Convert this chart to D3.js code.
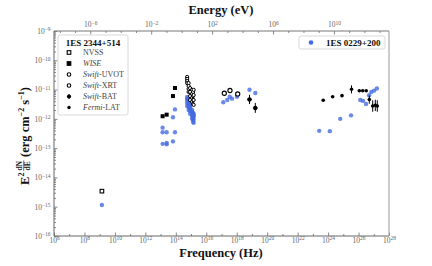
<!DOCTYPE html>
<html>
<head>
<meta charset="utf-8">
<script src="https://cdn.jsdelivr.net/npm/d3@7"></script>
<style>
  body { margin: 0; background: #fff; }
  text { font-family: "Liberation Serif", "Times New Roman", serif; }
</style>
</head>
<body>
<div id="chart"></div>
<script>
const width = 432
const height = 266
const margin = {top: 31, right: 43, bottom: 30, left: 54}
const hPlanck = 4.135667e-15   // eV s

// ---- 1ES 2344+514 (black) : [frequency Hz, flux erg cm^-2 s^-1, (err lo, err hi)]
const nvss = [[1.4e9, 3.4e-15]]
const wise = [[1.36e13, 1.23e-12], [2.5e13, 1.39e-12], [6.5e13, 6.0e-12], [8.8e13, 1.13e-11]]
const uvotNu = [5.55e14, 6.93e14, 8.65e14, 1.16e15, 1.35e15, 1.48e15]
const uvot2344 = [
  [2.7e-11, 2.3e-11, 1.95e-11, 1.66e-11],
  [1.66e-11, 1.32e-11, 1.05e-11, 8.3e-12],
  [1.12e-11, 8.3e-12, 6.0e-12, 4.4e-12],
  [9.8e-12, 7.1e-12, 5.2e-12, 3.8e-12],
  [8.3e-12, 6.0e-12, 4.4e-12, 3.2e-12],
  [9.8e-12, 6.5e-12, 4.4e-12, 3.0e-12]
]
const xrt = [[1.53e17, 7.5e-12], [3.6e17, 9.3e-12], [1.16e18, 7.1e-12]]
const bat = [[6.9e18, 4.6e-12, 3.2e-12, 6.6e-12], [1.66e19, 2.35e-12, 1.6e-12, 3.5e-12]]
const batNuErr = [[4.8e18, 1.0e19], [1.15e19, 2.4e19]]
const lat = [
  [4.8e23, 4.3e-12], [2.0e24, 5.7e-12], [8.2e24, 6.2e-12],
  [3.45e25, 1.02e-11, 7.4e-12, 1.4e-11],
  [1.12e26, 9.1e-12], [1.88e26, 9.1e-12], [3.2e26, 9.1e-12],
  [5.1e26, 4.6e-12, 3.3e-12, 6.3e-12],
  [8.5e26, 2.75e-12, 1.75e-12, 4.3e-12],
  [1.26e27, 2.9e-12, 1.85e-12, 4.5e-12],
  [1.7e27, 2.75e-12, 1.75e-12, 4.3e-12]
]

// ---- 1ES 0229+200 (blue)
const radio0229 = [[1.4e9, 1.15e-15]]
const ir0229 = [
  [1.36e13, 5.0e-13], [1.36e13, 3.5e-13], [1.36e13, 1.4e-13],
  [2.5e13, 3.5e-13], [2.5e13, 1.5e-13], [2.5e13, 1.35e-13],
  [6.5e13, 1.13e-12], [6.5e13, 1.7e-13],
  [8.8e13, 2.1e-12], [8.8e13, 3.5e-13]
]
const uvot0229 = [
  [5.6e-12, 4.9e-12, 4.4e-12, 3.5e-12, 2.75e-12],
  [4.1e-12, 3.6e-12, 3.2e-12, 2.55e-12, 2.0e-12],
  [2.95e-12, 2.6e-12, 2.34e-12, 1.85e-12, 1.48e-12],
  [2.0e-12, 1.8e-12, 1.58e-12, 1.26e-12, 1.0e-12],
  [1.58e-12, 1.4e-12, 1.26e-12, 1.0e-12, 7.9e-13],
  [1.48e-12, 1.3e-12, 1.18e-12, 9.3e-13, 7.3e-13]
]
const xray0229 = [[1.31e17, 3.7e-12], [2.4e17, 4.4e-12], [3.46e17, 5.7e-12], [4.9e17, 4.9e-12], [1.04e18, 5.7e-12],
  [6.9e18, 9.9e-12], [1.66e19, 7.6e-12]]
const gamma0229 = [
  [2.6e23, 3.9e-13], [1.3e24, 3.8e-13], [6.3e24, 1.0e-12], [3.2e25, 1.32e-12],
  [1.3e26, 4.4e-12], [1.97e26, 4.1e-12], [3.1e26, 3.2e-12],
  [4.9e26, 6.4e-12], [6.9e26, 8.3e-12], [1.04e27, 9.2e-12], [1.6e27, 1.09e-11]
]

const xExp = d3.range(6, 29, 2)
const yExp = d3.range(-16, -8)
const eExp = [-6, -2, 2, 6, 10]
const legendEntries = [
  {it: "", rm: "NVSS", mark: "osq"},
  {it: "WISE", rm: "", mark: "sq"},
  {it: "Swift", rm: "-UVOT", mark: "oc"},
  {it: "Swift", rm: "-XRT", mark: "oc"},
  {it: "Swift", rm: "-BAT", mark: "bat"},
  {it: "Fermi", rm: "-LAT", mark: "dot"}
]

const svg = d3.select("#chart").append("svg")
  .attr("width", width)
  .attr("height", height)

const x = d3.scaleLog().domain([1e6, 1e28]).range([margin.left, width - margin.right])
const y = d3.scaleLog().domain([1e-16, 1e-9]).range([height - margin.bottom, margin.top])
const xE = d3.scaleLog().domain([1e6 * hPlanck, 1e28 * hPlanck]).range([margin.left, width - margin.right])

const sup = e => String(e).replace("-", "\u2212")

function styleAxis(g, labels) {
  g.select(".domain").remove()
  g.selectAll(".tick line").attr("stroke", "#555").attr("stroke-width", 0.7)
  g.selectAll(".tick text")
    .attr("font-family", '"Liberation Serif", serif')
    .attr("font-size", 7.5)
    .attr("fill", "#666")
  if (labels) {
    g.selectAll(".tick text").append("tspan")
      .attr("dy", "-0.45em")
      .attr("font-size", 5.5)
      .text(d => sup(Math.round(Math.log10(d))))
  }
}

// bottom axis
const gx = svg.append("g").attr("transform", `translate(0,${height - margin.bottom})`)
  .call(d3.axisBottom(x).tickValues(xExp.map(e => Math.pow(10, e))).tickSize(-3.5).tickPadding(1.5).tickFormat(() => "10"))
styleAxis(gx, true)
const gxm = svg.append("g").attr("transform", `translate(0,${height - margin.bottom})`)
  .call(d3.axisBottom(x).tickValues(d3.range(7, 28, 2).map(e => Math.pow(10, e))).tickSize(-2).tickFormat(""))
styleAxis(gxm, false)

// left axis
const gy = svg.append("g").attr("transform", `translate(${margin.left},0)`)
  .call(d3.axisLeft(y).tickValues(yExp.map(e => Math.pow(10, e))).tickSize(-3.5).tickPadding(3.5).tickFormat(() => "10"))
styleAxis(gy, true)
const yMinor = []
yExp.slice(0, -1).forEach(e => d3.range(2, 10).forEach(k => yMinor.push(k * Math.pow(10, e))))
const gym = svg.append("g").attr("transform", `translate(${margin.left},0)`)
  .call(d3.axisLeft(y).tickValues(yMinor).tickSize(-2).tickFormat(""))
styleAxis(gym, false)

// top axis (energy)
const gt = svg.append("g").attr("transform", `translate(0,${margin.top})`)
  .call(d3.axisTop(xE).tickValues(eExp.map(e => Math.pow(10, e))).tickSize(-3.5).tickPadding(3.8).tickFormat(() => "10"))
styleAxis(gt, true)
const gtm = svg.append("g").attr("transform", `translate(0,${margin.top})`)
  .call(d3.axisTop(xE).tickValues(d3.range(-8, 14).filter(e => !eExp.includes(e)).map(e => Math.pow(10, e))).tickSize(-2).tickFormat(""))
styleAxis(gtm, false)

// frame
const [x0, x1] = x.range(), [y1, y0] = y.range()
svg.append("line").attr("x1", x0).attr("x2", x0).attr("y1", y0).attr("y2", y1).attr("stroke", "#666").attr("stroke-width", 1)
svg.append("line").attr("x1", x0).attr("x2", x1).attr("y1", y1).attr("y2", y1).attr("stroke", "#666").attr("stroke-width", 1)
svg.append("line").attr("x1", x0).attr("x2", x1).attr("y1", y0).attr("y2", y0).attr("stroke", "#777").attr("stroke-width", 1)
svg.append("line").attr("x1", x1).attr("x2", x1).attr("y1", y0).attr("y2", y1).attr("stroke", "#999").attr("stroke-width", 1)

// ---- blue source
const blue = svg.append("g")
  .attr("fill", "royalblue")
  .attr("fill-opacity", 0.78)
const bluePts = [].concat(radio0229, ir0229, xray0229, gamma0229)
uvotNu.forEach((nu, i) => uvot0229[i].forEach(f => bluePts.push([nu, f])))
blue.selectAll("circle").data(bluePts).join("circle")
  .attr("cx", d => x(d[0]))
  .attr("cy", d => y(d[1]))
  .attr("r", 2.2)

// ---- black source
const black = svg.append("g")

black.selectAll("rect.nvss").data(nvss).join("rect")
  .attr("x", d => x(d[0]) - 1.8).attr("y", d => y(d[1]) - 1.8)
  .attr("width", 3.6).attr("height", 3.6)
  .attr("fill", "white").attr("stroke", "black").attr("stroke-width", 1.1)

black.selectAll("rect.wise").data(wise).join("rect")
  .attr("x", d => x(d[0]) - 2).attr("y", d => y(d[1]) - 2)
  .attr("width", 4).attr("height", 4)
  .attr("fill", "black")

const uvotPts = []
uvotNu.forEach((nu, i) => uvot2344[i].forEach(f => uvotPts.push([nu, f])))
black.selectAll("circle.uvot").data(uvotPts).join("circle")
  .attr("cx", d => x(d[0])).attr("cy", d => y(d[1]))
  .attr("r", 1.6).attr("fill", "white").attr("stroke", "black").attr("stroke-width", 1)

black.selectAll("circle.xrt").data(xrt).join("circle")
  .attr("cx", d => x(d[0])).attr("cy", d => y(d[1]))
  .attr("r", 2.1).attr("fill", "white").attr("stroke", "black").attr("stroke-width", 1.1)

const errPts = bat.concat(lat.filter(d => d.length > 2))
black.selectAll("line.err").data(errPts).join("line")
  .attr("x1", d => x(d[0])).attr("x2", d => x(d[0]))
  .attr("y1", d => y(d[2])).attr("y2", d => y(d[3]))
  .attr("stroke", "black").attr("stroke-width", 1)
black.selectAll("line.xerr").data(batNuErr).join("line")
  .attr("x1", d => x(d[0])).attr("x2", d => x(d[1]))
  .attr("y1", (d, i) => y(bat[i][1])).attr("y2", (d, i) => y(bat[i][1]))
  .attr("stroke", "black").attr("stroke-width", 1)
black.selectAll("circle.bat").data(bat).join("circle")
  .attr("cx", d => x(d[0])).attr("cy", d => y(d[1]))
  .attr("r", 2.2).attr("fill", "black")
black.selectAll("circle.lat").data(lat).join("circle")
  .attr("cx", d => x(d[0])).attr("cy", d => y(d[1]))
  .attr("r", 1.8).attr("fill", "black")

// ---- axis titles
svg.append("text")
  .attr("x", 221).attr("y", 257)
  .attr("text-anchor", "middle")
  .attr("font-weight", "bold").attr("font-size", 12.5)
  .attr("fill", "#111")
  .text("Frequency (Hz)")
svg.append("text")
  .attr("x", 221).attr("y", 14)
  .attr("text-anchor", "middle")
  .attr("font-weight", "bold").attr("font-size", 12.5)
  .attr("fill", "#111")
  .text("Energy (eV)")

const yl = svg.append("g").attr("transform", "translate(24,136) rotate(-90)").attr("fill", "#111").attr("font-weight", "bold")
const e2 = yl.append("text").attr("font-size", 12.5).attr("y", 4.5)
e2.append("tspan").text("E")
e2.append("tspan").attr("dy", -5).attr("font-size", 8).text("2")
const fracN = yl.append("text").attr("font-size", 7.5).attr("y", -2).attr("text-anchor", "middle").text("dN")
const fracD = yl.append("text").attr("font-size", 7.5).attr("y", 6.2).attr("text-anchor", "middle").text("dE")
const unit = yl.append("text").attr("font-size", 12.5).attr("y", 4.5)
unit.append("tspan").text("(erg cm")
unit.append("tspan").attr("dy", -5).attr("font-size", 8).text("\u22122")
unit.append("tspan").attr("dy", 5).text(" s")
unit.append("tspan").attr("dy", -5).attr("font-size", 8).text("\u22121")
unit.append("tspan").attr("dy", 5).text(")")
const w1 = e2.node().getComputedTextLength()
const wf = Math.max(fracN.node().getComputedTextLength(), fracD.node().getComputedTextLength()) + 1
const w3 = unit.node().getComputedTextLength()
const total = w1 + 1.5 + wf + 3.5 + w3
let pos = -total / 2
e2.attr("x", pos)
pos += w1 + 1.5
fracN.attr("x", pos + wf / 2)
fracD.attr("x", pos + wf / 2)
yl.append("line").attr("x1", pos).attr("x2", pos + wf).attr("y1", -0.3).attr("y2", -0.3)
  .attr("stroke", "#111").attr("stroke-width", 0.6)
pos += wf + 3.5
unit.attr("x", pos)

// ---- legend 1ES 2344+514
const leg = svg.append("g")
leg.append("rect")
  .attr("x", 58).attr("y", 35).attr("width", 70).attr("height", 80)
  .attr("rx", 2).attr("fill", "white").attr("fill-opacity", 0.85)
  .attr("stroke", "#d0d0d0").attr("stroke-width", 0.8)
leg.append("text")
  .attr("x", 93).attr("y", 46)
  .attr("text-anchor", "middle")
  .attr("font-weight", "bold").attr("font-size", 9)
  .attr("fill", "#111")
  .text("1ES 2344+514")
const rows = leg.selectAll("g.row").data(legendEntries).join("g")
  .attr("transform", (d, i) => `translate(69,${52.5 + i * 11})`)
rows.each(function (d) {
  const r = d3.select(this)
  if (d.mark === "osq" || d.mark === "sq") {
    r.append("rect").attr("x", -1.8).attr("y", -1.8).attr("width", 3.6).attr("height", 3.6)
      .attr("fill", d.mark === "sq" ? "black" : "white").attr("stroke", "black").attr("stroke-width", 1.1)
  } else if (d.mark === "oc") {
    r.append("circle").attr("r", 1.8).attr("fill", "white").attr("stroke", "black").attr("stroke-width", 1.1)
  } else if (d.mark === "bat") {
    r.append("line").attr("y1", -2.5).attr("y2", 2.5).attr("stroke", "black")
    r.append("circle").attr("r", 2.1).attr("fill", "black")
  } else {
    r.append("circle").attr("r", 1.7).attr("fill", "black")
  }
  const t = r.append("text").attr("x", 14).attr("y", 2.8).attr("font-size", 8).attr("fill", "#444")
  if (d.it) t.append("tspan").attr("font-style", "italic").text(d.it)
  if (d.rm) t.append("tspan").text(d.rm)
})

// ---- legend 1ES 0229+200
const leg2 = svg.append("g")
leg2.append("rect")
  .attr("x", 299).attr("y", 36).attr("width", 86).attr("height", 13)
  .attr("rx", 2).attr("fill", "white").attr("fill-opacity", 0.85)
  .attr("stroke", "#d0d0d0").attr("stroke-width", 0.8)
leg2.append("circle").attr("cx", 311).attr("cy", 42.5).attr("r", 2.3).attr("fill", "royalblue")
leg2.append("text")
  .attr("x", 326).attr("y", 45.5)
  .attr("font-weight", "bold").attr("font-size", 9)
  .attr("fill", "#111")
  .text("1ES 0229+200")
</script>
</body>
</html>
